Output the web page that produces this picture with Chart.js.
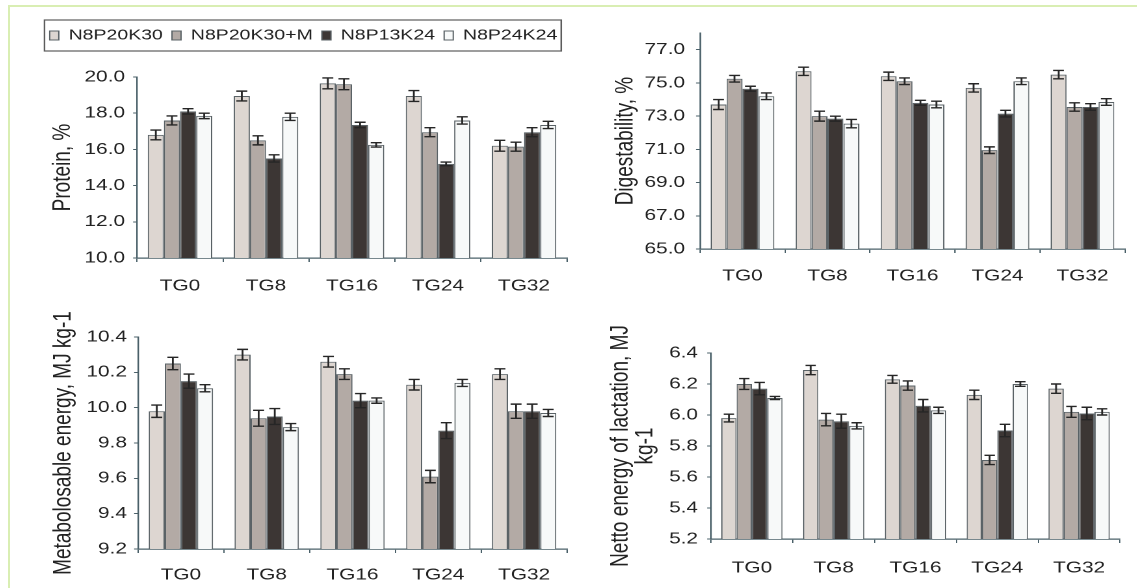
<!DOCTYPE html>
<html>
<head>
<meta charset="utf-8">
<script src="https://cdn.jsdelivr.net/npm/chart.js@4/dist/chart.umd.min.js"></script>
<style>
html,body{margin:0;padding:0;background:#fff;width:1137px;height:588px;overflow:hidden;}
.frame{position:absolute;left:8px;top:5px;width:1129px;height:583px;border-top:2px solid #d9eeb3;border-left:2px solid #d9eeb3;box-sizing:border-box;}
.panel{position:absolute;transform-origin:0 0;}
</style>
</head>
<body>
<div class="frame"></div>
<script>
// ---------- data ----------
const categories = ['TG0', 'TG8', 'TG16', 'TG24', 'TG32'];
const seriesNames = ['N8P20K30', 'N8P20K30+M', 'N8P13K24', 'N8P24K24'];

const proteinValues = [
  [16.8, 18.95, 19.65, 18.95, 16.2],
  [17.6, 16.5, 19.6, 16.95, 16.15],
  [18.1, 15.5, 17.35, 15.2, 16.95],
  [17.85, 17.8, 16.25, 17.6, 17.35]
];
const proteinErrors = [
  [0.27, 0.27, 0.3, 0.3, 0.3],
  [0.25, 0.25, 0.3, 0.25, 0.25],
  [0.15, 0.2, 0.15, 0.1, 0.25],
  [0.15, 0.2, 0.12, 0.2, 0.2]
];
const proteinTicks = [10, 12, 14, 16, 18, 20];

const digestValues = [
  [73.7, 75.7, 75.4, 74.7, 75.5],
  [75.25, 73.0, 75.1, 70.95, 73.55],
  [74.65, 72.85, 73.8, 73.15, 73.55],
  [74.2, 72.55, 73.7, 75.1, 73.85]
];
const digestErrors = [
  [0.3, 0.25, 0.25, 0.25, 0.25],
  [0.2, 0.3, 0.2, 0.2, 0.25],
  [0.15, 0.15, 0.15, 0.2, 0.2],
  [0.2, 0.25, 0.2, 0.2, 0.2]
];
const digestTicks = [65, 67, 69, 71, 73, 75, 77];

const meValues = [
  [9.98, 10.30, 10.26, 10.13, 10.19],
  [10.25, 9.94, 10.19, 9.61, 9.98],
  [10.15, 9.95, 10.04, 9.87, 9.98],
  [10.11, 9.89, 10.04, 10.14, 9.97]
];
const meErrors = [
  [0.035, 0.03, 0.03, 0.03, 0.03],
  [0.035, 0.045, 0.03, 0.035, 0.04],
  [0.04, 0.045, 0.04, 0.045, 0.04],
  [0.02, 0.02, 0.015, 0.02, 0.02]
];
const meTicks = [9.2, 9.4, 9.6, 9.8, 10.0, 10.2, 10.4];

const nelValues = [
  [5.98, 6.29, 6.23, 6.13, 6.17],
  [6.20, 5.97, 6.19, 5.71, 6.02],
  [6.17, 5.96, 6.06, 5.90, 6.01],
  [6.11, 5.93, 6.03, 6.20, 6.02]
];
const nelErrors = [
  [0.025, 0.03, 0.025, 0.03, 0.03],
  [0.035, 0.04, 0.03, 0.03, 0.035],
  [0.04, 0.045, 0.04, 0.04, 0.04],
  [0.01, 0.02, 0.02, 0.015, 0.02]
];
const nelTicks = [5.2, 5.4, 5.6, 5.8, 6.0, 6.2, 6.4];

// ---------- styling ----------
const S = 1.3; // horizontal stretch of the original figure
const fills = ['#ddd6d1', '#b3aaa5', '#3c3634', '#f7f9f9'];
const barBorder = '#5a6266';
const axisColor = '#4a6069';
const textColor = '#222222';
Chart.defaults.font.family = "'Liberation Sans', Arial, sans-serif";
Chart.defaults.color = textColor;

const errorBarPlugin = {
  id: 'errorBarPlugin',
  afterDatasetsDraw(chart) {
    const ctx = chart.ctx;
    const y = chart.scales.y;
    ctx.save();
    ctx.strokeStyle = '#262626';
    ctx.lineWidth = 1.4;
    chart.data.datasets.forEach((ds, i) => {
      const meta = chart.getDatasetMeta(i);
      meta.data.forEach((bar, j) => {
        const v = ds.data[j], e = ds.errors[j];
        const yt = y.getPixelForValue(v + e), yb = y.getPixelForValue(v - e);
        const hw = bar.width * 0.34;
        ctx.beginPath();
        ctx.moveTo(bar.x, yt); ctx.lineTo(bar.x, yb);
        ctx.moveTo(bar.x - hw, yt); ctx.lineTo(bar.x + hw, yt);
        ctx.moveTo(bar.x - hw, yb); ctx.lineTo(bar.x + hw, yb);
        ctx.stroke();
      });
    });
    ctx.restore();
  }
};

function legendPlugin(legendHeight, boxTop, boxBottom) {
  return {
    id: 'legendFrame',
    beforeLayout(chart) {
      const lg = chart.legend;
      if (lg && !lg.__patched) {
        const f = lg.fit.bind(lg);
        lg.fit = function () { f(); this.height = legendHeight; };
        lg.__patched = true;
      }
    },
    afterDraw(chart) {
      const hb = chart.legend.legendHitBoxes;
      if (!hb || !hb.length) return;
      const l = Math.min(...hb.map(h => h.left)) - 4;
      const r = Math.max(...hb.map(h => h.left + h.width)) + 3;
      const ctx = chart.ctx;
      ctx.save();
      ctx.strokeStyle = '#5c5c5c';
      ctx.lineWidth = 1.2;
      ctx.strokeRect(l, boxTop, r - l, boxBottom - boxTop);
      ctx.restore();
    }
  };
}

const panels = [
  {X0: 40, Y0: 12, cw: 410, H: 295, L: 137, T: 77, R: 567, B: 258,
   title: 'Protein, %', titleX: 63, values: proteinValues, errors: proteinErrors,
   ticks: proteinTicks, min: 10, max: 20, tickPad: 6.2, labelPad: 14.4, legend: true},
  {X0: 600, Y0: 15, cw: 410, H: 290, L: 700, T: 29, R: 1125, B: 249,
   title: 'Digestability, %', titleX: 626, values: digestValues, errors: digestErrors,
   ticks: digestTicks, min: 65, max: 78, tickPad: 8.5, labelPad: 13.4},
  {X0: 40, Y0: 300, cw: 410, H: 288, L: 138, T: 337, R: 567, B: 549,
   title: 'Metabolosable energy, MJ kg-1', titleX: 64, values: meValues, errors: meErrors,
   ticks: meTicks, min: 9.2, max: 10.4, tickPad: 5.5, labelPad: 12.4},
  {X0: 590, Y0: 300, cw: 415, H: 288, L: 711, T: 353, R: 1120, B: 539,
   title: ['Netto energy of lactation, MJ', 'kg-1'], titleX: 621, values: nelValues, errors: nelErrors,
   ticks: nelTicks, min: 5.2, max: 6.4, tickPad: 7, labelPad: 15.4}
];

const XH = 36;
const TITLE_SIZE = 19;

panels.forEach((p, idx) => {
  const div = document.createElement('div');
  div.className = 'panel';
  div.style.left = p.X0 + 'px';
  div.style.top = p.Y0 + 'px';
  div.style.width = p.cw + 'px';
  div.style.height = p.H + 'px';
  div.style.transform = 'scaleX(' + S + ')';
  const canvas = document.createElement('canvas');
  div.appendChild(canvas);
  document.body.appendChild(div);

  const yW = (p.L - p.X0) / S;
  const padRight = p.cw - (p.R - p.X0) / S;
  const padBottom = p.H - (p.B - p.Y0) - XH;
  const legendPadTop = 9;
  const padTop = p.legend ? legendPadTop : (p.T - p.Y0);
  const titlePad = (p.titleX - p.X0) / S - TITLE_SIZE / 2;

  const datasets = seriesNames.map((name, i) => ({
    label: name,
    data: p.values[i],
    errors: p.errors[i],
    backgroundColor: fills[i],
    borderColor: barBorder,
    borderWidth: 1,
    categoryPercentage: 0.75,
    barPercentage: 1.0
  }));

  const plugins = [errorBarPlugin];
  if (p.legend) plugins.push(legendPlugin(p.T - p.Y0 - legendPadTop, 20 - p.Y0, 51 - p.Y0));

  new Chart(canvas, {
    type: 'bar',
    data: {labels: categories, datasets},
    plugins,
    options: {
      responsive: true,
      maintainAspectRatio: false,
      animation: false,
      devicePixelRatio: 2,
      layout: {padding: {left: 0, right: padRight, top: padTop, bottom: padBottom}},
      plugins: {
        legend: {
          display: !!p.legend,
          position: 'top',
          labels: {boxWidth: 7, boxHeight: 9, padding: 7, color: textColor,
                   font: {size: 15}}
        },
        tooltip: {enabled: false}
      },
      scales: {
        x: {
          grid: {offset: true, drawOnChartArea: false, tickLength: 4, color: axisColor, lineWidth: 1},
          border: {color: axisColor, width: 1.2},
          ticks: {padding: p.labelPad, font: {size: 16}, color: textColor, maxRotation: 0, autoSkip: false},
          afterFit(s) { s.height = XH; }
        },
        y: {
          min: p.min, max: p.max,
          grid: {drawOnChartArea: false, tickLength: 3, color: axisColor, lineWidth: 1},
          border: {color: axisColor, width: 1.2},
          ticks: {padding: p.tickPad, font: {size: 16}, color: textColor,
                  callback: v => Number(v).toFixed(1)},
          afterBuildTicks(s) { s.ticks = p.ticks.map(v => ({value: v})); },
          afterFit(s) { s.width = yW; },
          title: {display: true, text: p.title, color: textColor,
                  font: {size: TITLE_SIZE, lineHeight: 1.0},
                  padding: {top: titlePad, bottom: 0}}
        }
      }
    }
  });
});
</script>
</body>
</html>
